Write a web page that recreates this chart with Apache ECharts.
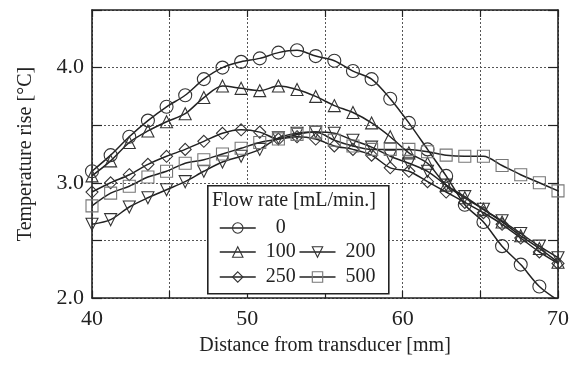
<!DOCTYPE html>
<html>
<head>
<meta charset="utf-8">
<script src="https://cdn.jsdelivr.net/npm/echarts@6/dist/echarts.min.js"></script>
<style>
html,body{margin:0;padding:0;background:#fff;}
#chart{width:573px;height:367px;}
</style>
</head>
<body>
<div id="chart"></div>
<script>
// Distance from transducer [mm]
var distance = [40, 41.2, 42.4, 43.6, 44.8, 46, 47.2, 48.4, 49.6, 50.8, 52, 53.2, 54.4, 55.6, 56.8, 58, 59.2, 60.4, 61.6, 62.8, 64, 65.2, 66.4, 67.6, 68.8, 70];
// Temperature rise [°C] per flow rate [mL/min.]
var flow0   = [3.10, 3.24, 3.40, 3.54, 3.66, 3.76, 3.90, 4.00, 4.05, 4.08, 4.13, 4.15, 4.10, 4.06, 3.97, 3.90, 3.73, 3.52, 3.29, 3.06, 2.81, 2.66, 2.45, 2.29, 2.10, 1.98];
var flow100 = [3.06, 3.19, 3.35, 3.45, 3.53, 3.60, 3.74, 3.84, 3.82, 3.80, 3.84, 3.81, 3.75, 3.67, 3.61, 3.52, 3.40, 3.26, 3.17, 2.98, 2.87, 2.77, 2.66, 2.54, 2.43, 2.31];
var flow200 = [2.64, 2.68, 2.79, 2.87, 2.94, 3.01, 3.10, 3.18, 3.23, 3.29, 3.39, 3.43, 3.44, 3.43, 3.37, 3.31, 3.23, 3.17, 3.10, 2.98, 2.88, 2.77, 2.67, 2.56, 2.45, 2.35];
var flow250 = [2.92, 3.00, 3.07, 3.16, 3.23, 3.29, 3.36, 3.43, 3.46, 3.44, 3.38, 3.40, 3.38, 3.32, 3.29, 3.24, 3.13, 3.10, 3.01, 2.92, 2.83, 2.74, 2.64, 2.52, 2.40, 2.30];
var flow500 = [2.80, 2.91, 2.97, 3.05, 3.10, 3.17, 3.20, 3.25, 3.30, 3.35, 3.38, 3.42, 3.44, 3.37, 3.32, 3.29, 3.29, 3.29, 3.27, 3.24, 3.23, 3.23, 3.15, 3.07, 3.00, 2.93];
var seriesNames = ['0', '100', '200', '250', '500'];
var xTickLabels = ['40', '50', '60', '70'];
var yTickLabels = ['2.0', '3.0', '4.0'];

var FONT = 'Liberation Serif';
var INK = '#222';

function pairs(vals) { return distance.map(function (x, i) { return [x, vals[i]]; }); }

function mkSeries(name, vals, symbol, rotate, border) {
  return {
    name: name, type: 'line', data: pairs(vals),
    symbol: symbol, symbolSize: symbol === 'circle' ? 13 : 12, symbolRotate: rotate,
    showAllSymbol: true, smooth: 0.3, clip: true,
    lineStyle: { color: INK, width: 1.5 },
    itemStyle: { color: 'rgba(255,255,255,0)', borderColor: border, borderWidth: 1.1 },
    emphasis: { disabled: true }, z: 3
  };
}

var tickFont = { fontFamily: FONT, fontSize: 22, color: INK };
var axisLineStyle = { color: INK, width: 1.6 };
var gridLine = { show: true, lineStyle: { color: '#555', type: [2, 2], width: 1 } };

var legendText = { fontFamily: FONT, fontSize: 20, color: INK,
  rich: { v: { fontFamily: FONT, fontSize: 20, color: INK, width: 40, align: 'center' } } };
function legendFmt(n) { return '{v|' + n + '}'; }
function mkLegend(names, top) {
  return { data: names, left: 214, top: top, itemWidth: 36, itemHeight: 13, itemGap: 3,
    selectedMode: false, textStyle: legendText, formatter: legendFmt, z: 60,
    lineStyle: { color: INK, width: 1.5 },
    itemStyle: { color: 'rgba(255,255,255,0)', borderWidth: 1.1 } };
}

var chart = echarts.init(document.getElementById('chart'), null, { renderer: 'canvas' });
chart.setOption({
  animation: false,
  backgroundColor: '#fff',
  grid: { left: 92, right: 15, top: 10, bottom: 69 },
  xAxis: [
    { type: 'value', min: 40, max: 70, interval: 5, position: 'bottom',
      name: 'Distance from transducer [mm]', nameLocation: 'middle', nameGap: 38,
      nameTextStyle: { fontFamily: FONT, fontSize: 20, color: INK },
      axisLine: { lineStyle: axisLineStyle }, axisTick: { inside: true, length: 7, lineStyle: { color: INK, width: 1.2 } },
      axisLabel: Object.assign({ margin: 10, formatter: function (v) { var s = String(v); return xTickLabels.indexOf(s) >= 0 ? s : ''; } }, tickFont),
      splitLine: gridLine },
    { type: 'value', min: 40, max: 70, interval: 5, position: 'top',
      axisLine: { lineStyle: axisLineStyle }, axisTick: { inside: true, length: 7, lineStyle: { color: INK, width: 1.2 } },
      axisLabel: { show: false }, splitLine: { show: false } }
  ],
  yAxis: [
    { type: 'value', min: 2, max: 4.5, interval: 0.5, position: 'left',
      name: 'Temperature rise [°C]', nameLocation: 'middle', nameGap: 56, nameRotate: 90,
      nameTextStyle: { fontFamily: FONT, fontSize: 20, color: INK },
      axisLine: { lineStyle: axisLineStyle }, axisTick: { inside: true, length: 10, lineStyle: { color: INK, width: 1.2 } },
      axisLabel: Object.assign({ margin: 8, formatter: function (v) { var s = v.toFixed(1); return yTickLabels.indexOf(s) >= 0 ? s : ''; } }, tickFont),
      splitLine: gridLine },
    { type: 'value', min: 2, max: 4.5, interval: 0.5, position: 'right',
      axisLine: { lineStyle: axisLineStyle }, axisTick: { inside: true, length: 10, lineStyle: { color: INK, width: 1.2 } },
      axisLabel: { show: false }, splitLine: { show: false } }
  ],
  graphic: [
    { type: 'rect', left: 207, top: 185, shape: { x: 0, y: 0, width: 181, height: 108 },
      style: { fill: '#fff', stroke: INK, lineWidth: 1.6 }, z: 50 },
    { type: 'text', left: 212, top: 191, style: { text: 'Flow rate [mL/min.]', font: '20px "Liberation Serif"', fill: INK }, z: 51 }
  ],
  legend: [
    mkLegend([seriesNames[0]], 213),
    mkLegend([seriesNames[1], seriesNames[2]], 237),
    mkLegend([seriesNames[3], seriesNames[4]], 262)
  ],
  series: [
    mkSeries(seriesNames[0], flow0, 'circle', 0, '#333'),
    mkSeries(seriesNames[1], flow100, 'triangle', 0, '#333'),
    mkSeries(seriesNames[2], flow200, 'triangle', 180, '#333'),
    mkSeries(seriesNames[3], flow250, 'diamond', 0, '#333'),
    mkSeries(seriesNames[4], flow500, 'rect', 0, '#777')
  ]
});
</script>
</body>
</html>
